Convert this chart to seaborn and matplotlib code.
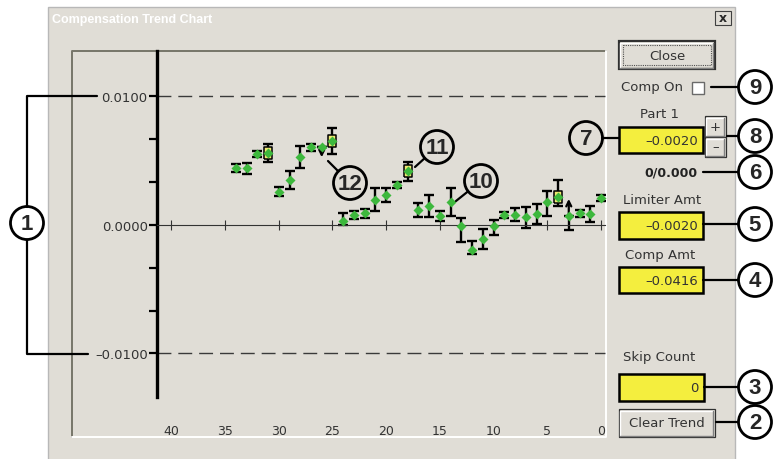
import numpy as np
import pandas as pd
import matplotlib
matplotlib.use("Agg")
import matplotlib.pyplot as plt
import seaborn as sns
from matplotlib.patches import Rectangle, Circle
from matplotlib.colors import LinearSegmentedColormap

sns.set_style("white")
plt.rcParams["font.family"] = ["DejaVu Sans"]

# --- data (sample 0 = newest) ---
sample = [34, 33, 32, 31, 30, 29, 28, 27, 26, 25, 24, 23, 22, 21, 20, 19, 18,
          17, 16, 15, 14, 13, 12, 11, 10, 9, 8, 7, 6, 5, 4, 3, 2, 1, 0]
value = [0.00441, 0.00440, 0.00553, 0.00558, 0.00259, 0.00350, 0.00527, 0.00605,
         0.00610, 0.00651, 0.00029, 0.00078, 0.00093, 0.00197, 0.00233, 0.00314,
         0.00418, 0.00117, 0.00150, 0.00072, 0.00181, -0.00010, -0.00195, -0.00109,
         -0.00005, 0.00078, 0.00080, 0.00060, 0.00086, 0.00181, 0.00215, 0.00068,
         0.00093, 0.00086, 0.00208]
err_hi = [0.00030, 0.00045, 0.00023, 0.00070, 0.00036, 0.00068, 0.00086, 0.00026,
          0.0, 0.00100, 0.00065, 0.00033, 0.00035, 0.00090, 0.00054, 0.00023,
          0.00076, 0.00056, 0.00087, 0.00039, 0.00110, 0.00062, 0.00072, 0.00080,
          0.00044, 0.00023, 0.00052, 0.00080, 0.00078, 0.00080, 0.00137, 0.0,
          0.00027, 0.00060, 0.00023]
err_lo = [0.00030, 0.00045, 0.00023, 0.00070, 0.00036, 0.00068, 0.00086, 0.00026,
          0.0, 0.00100, 0.00026, 0.00033, 0.00035, 0.00090, 0.00054, 0.00023,
          0.00076, 0.00056, 0.00087, 0.00039, 0.00110, 0.00120, 0.00031, 0.00080,
          0.00072, 0.00023, 0.00052, 0.00080, 0.00078, 0.00110, 0.00070, 0.00104,
          0.00027, 0.00060, 0.00023]
boxed = [31, 25, 18, 4]                  # samples shown with a yellow box
arrow_samples = [26, 3]                  # clipped error bars drawn as arrows
arrow_len = [-0.00083, 0.00135]

limits = [0.0100, -0.0100]
ytick_major = [-0.0100, 0.0, 0.0100]
ytick_labels = ["\u20130.0100", "0.0000", "0.0100"]
ytick_minor = [-0.00667, -0.00333, 0.00333, 0.00667]
xticks = [40, 35, 30, 25, 20, 15, 10, 5, 0]

df = pd.DataFrame({"sample": sample, "value": value, "lo": err_lo, "hi": err_hi})

GRAY = "#E0DDD6"
GREEN = "#3DB83D"
YELLOW = "#F4EE3E"
TXT = "#333333"

fig = plt.figure(figsize=(7.84, 4.60), dpi=100)
fig.patch.set_facecolor("white")

# --- dialog chrome (pixel coordinates) ---
bg = fig.add_axes([0, 0, 1, 1])
bg.set_axis_off()
bg.add_patch(Rectangle((48, 8), 687, 460, fc=GRAY, ec="#b8b8b8", lw=1))
title_cmap = LinearSegmentedColormap.from_list("tb", ["#1F4690", "#5F88C8", "#A8C8EC"])
bg.imshow(np.linspace(0, 1, 256)[None, :], extent=[50, 733, 28, 10], cmap=title_cmap,
          aspect="auto")
bg.text(52, 19.5, "Compensation Trend Chart", color="white", fontsize=9,
        fontweight="bold", family="Liberation Sans", va="center", ha="left")
bg.add_patch(Rectangle((715, 12), 16, 14, fc=GRAY, ec="#404040", lw=0.8))
bg.text(723, 19, "x", fontsize=9, fontweight="bold", ha="center", va="center")

# sunken chart frame
bg.plot([72, 72, 606], [438, 52, 52], color="#77766a", lw=1.4)
bg.plot([72, 606, 606], [438, 438, 52], color="white", lw=1.4)


def button(x, y, w, h, label, default=False):
    bg.add_patch(Rectangle((x, y), w, h, fc=GRAY, ec="#303030",
                           lw=1.6 if default else 0.9))
    bg.plot([x + 1.5, x + 1.5, x + w - 1.5], [y + h - 1.5, y + 1.5, y + 1.5],
            color="white", lw=1)
    bg.plot([x + 1.5, x + w - 1.5, x + w - 1.5], [y + h - 1.5, y + h - 1.5, y + 1.5],
            color="#808080", lw=1)
    if default:
        bg.add_patch(Rectangle((x + 4, y + 4), w - 8, h - 8, fill=False,
                               ec="#505050", lw=0.8, ls=(0, (1, 1))))
    bg.text(x + w / 2, y + h / 2, label, fontsize=9.5, color=TXT,
            ha="center", va="center")


def field(x, y, w, h, label):
    bg.add_patch(Rectangle((x, y), w, h, fc=YELLOW, ec="black", lw=1.8))
    bg.text(x + w - 5, y + h / 2 + 0.5, label, fontsize=9.5, color=TXT,
            ha="right", va="center")


button(619, 42, 96, 28, "Close", default=True)
bg.text(621, 88, "Comp On", fontsize=9.5, color=TXT, va="center")
bg.add_patch(Rectangle((692, 83), 12, 12, fc="white", ec="#6a6a6a", lw=1))
bg.text(660, 115, "Part 1", fontsize=9.5, color=TXT, ha="center", va="center")
field(619, 128, 84, 26, "\u20130.0020")
button(705, 117, 21, 21, "+")
button(705, 138, 21, 20, "\u2013")
bg.text(698, 173, "0/0.000", fontsize=9, fontweight="bold", color="#222222",
        ha="right", va="center")
bg.text(623, 201, "Limiter Amt", fontsize=9.5, color=TXT, va="center")
field(619, 213, 84, 27, "\u20130.0020")
bg.text(625, 255, "Comp Amt", fontsize=9.5, color=TXT, va="center")
field(619, 268, 84, 26, "\u20130.0416")
bg.text(623, 358, "Skip Count", fontsize=9.5, color=TXT, va="center")
field(619, 375, 85, 27, "0")
button(619, 410, 96, 28, "Clear Trend")

bg.set_xlim(0, 784)
bg.set_ylim(460, 0)

# --- trend chart ---
ax = fig.add_axes([72 / 784, 22 / 460, 534 / 784, 386 / 460])
ax.set_facecolor("none")
YAXIS_X = 41.3

ax.errorbar(df["sample"], df["value"], yerr=[df["lo"], df["hi"]], fmt="none",
            ecolor="black", elinewidth=1.7, capsize=3.3, capthick=1.7, zorder=2)
for s, d in zip(arrow_samples, arrow_len):
    v = df.loc[df["sample"] == s, "value"].iloc[0]
    ax.annotate("", xy=(s, v + d), xytext=(s, v),
                arrowprops=dict(arrowstyle="->", color="black", lw=1.6,
                                shrinkA=0, shrinkB=0, mutation_scale=9))
box = df[df["sample"].isin(boxed)]
ax.plot(box["sample"], box["value"], ls="none",
        marker=[(-0.33, -0.5), (0.33, -0.5), (0.33, 0.5), (-0.33, 0.5), (-0.33, -0.5)],
        ms=9, mfc="#EEE870", mec="black", mew=1.1, zorder=3)
sns.scatterplot(data=df, x="sample", y="value", marker="D", s=26, color=GREEN,
                linewidth=0, ax=ax, zorder=4)

for lim in limits:
    ax.plot([YAXIS_X, -0.37], [lim, lim], color="#3a3a3a", lw=1, ls=(0, (10, 5)),
            zorder=1)

ax.set_xlim(49.25, -0.466)
ax.set_ylim(-0.0165, 0.01354)
ax.set_xlabel("")
ax.set_ylabel("")
ax.spines["top"].set_visible(False)
ax.spines["right"].set_visible(False)
ax.spines["left"].set_position(("data", YAXIS_X))
ax.spines["left"].set_linewidth(2.4)
ax.spines["left"].set_color("black")
ax.spines["left"].set_bounds(-0.01339, 0.01354)
ax.spines["bottom"].set_position(("data", 0))
ax.spines["bottom"].set_linewidth(0.8)
ax.spines["bottom"].set_color("#333333")
ax.spines["bottom"].set_bounds(-0.37, YAXIS_X)

ax.set_yticks(ytick_major, labels=ytick_labels)
ax.set_yticks(ytick_minor, minor=True)
ax.set_xticks(xticks, labels=[str(t) for t in xticks])
ax.tick_params(axis="y", which="both", left=True, direction="out", length=6,
               width=1.6, color="black", pad=1, labelsize=9.5, labelcolor=TXT)
ax.tick_params(axis="x", bottom=True, direction="inout", length=7, width=0.8,
               color="#333333", pad=140, labelsize=9, labelcolor=TXT)

# --- numbered callouts ---
ov = fig.add_axes([0, 0, 1, 1])
ov.set_axis_off()
ov.set_facecolor("none")
ov.set_xlim(0, 784)
ov.set_ylim(460, 0)

R = 16.5
callouts = [("1", 27, 224, None), ("2", 755, 423, (716, 423)), ("3", 755, 388, (704, 388)),
            ("4", 755, 281, (703, 281)), ("5", 755, 225, (703, 225)),
            ("6", 755, 173, (703, 173)), ("7", 586, 139, (619, 139)),
            ("8", 755, 137, (727, 137)), ("9", 755, 88, (711, 88)),
            ("10", 481, 182, (456, 202)), ("11", 437, 148, (415, 168)),
            ("12", 350, 184, (328, 162))]
for lab, cx, cy, tgt in callouts:
    ov.add_patch(Circle((cx, cy), R, fill=False, ec="black", lw=2))
    ov.text(cx, cy + 1, lab, fontsize=16, fontweight="bold", family="Liberation Sans",
            ha="center", va="center")
    if tgt is not None:
        dx, dy = tgt[0] - cx, tgt[1] - cy
        d = np.hypot(dx, dy)
        ov.plot([cx + dx / d * R, tgt[0]], [cy + dy / d * R, tgt[1]], color="black", lw=1.6)

# bracket for the limit lines
ov.plot([97, 27, 27], [97, 97, 224 - R], color="black", lw=1.6)
ov.plot([88, 27, 27], [355, 355, 224 + R], color="black", lw=1.6)

fig.savefig("out.png", dpi=100)
